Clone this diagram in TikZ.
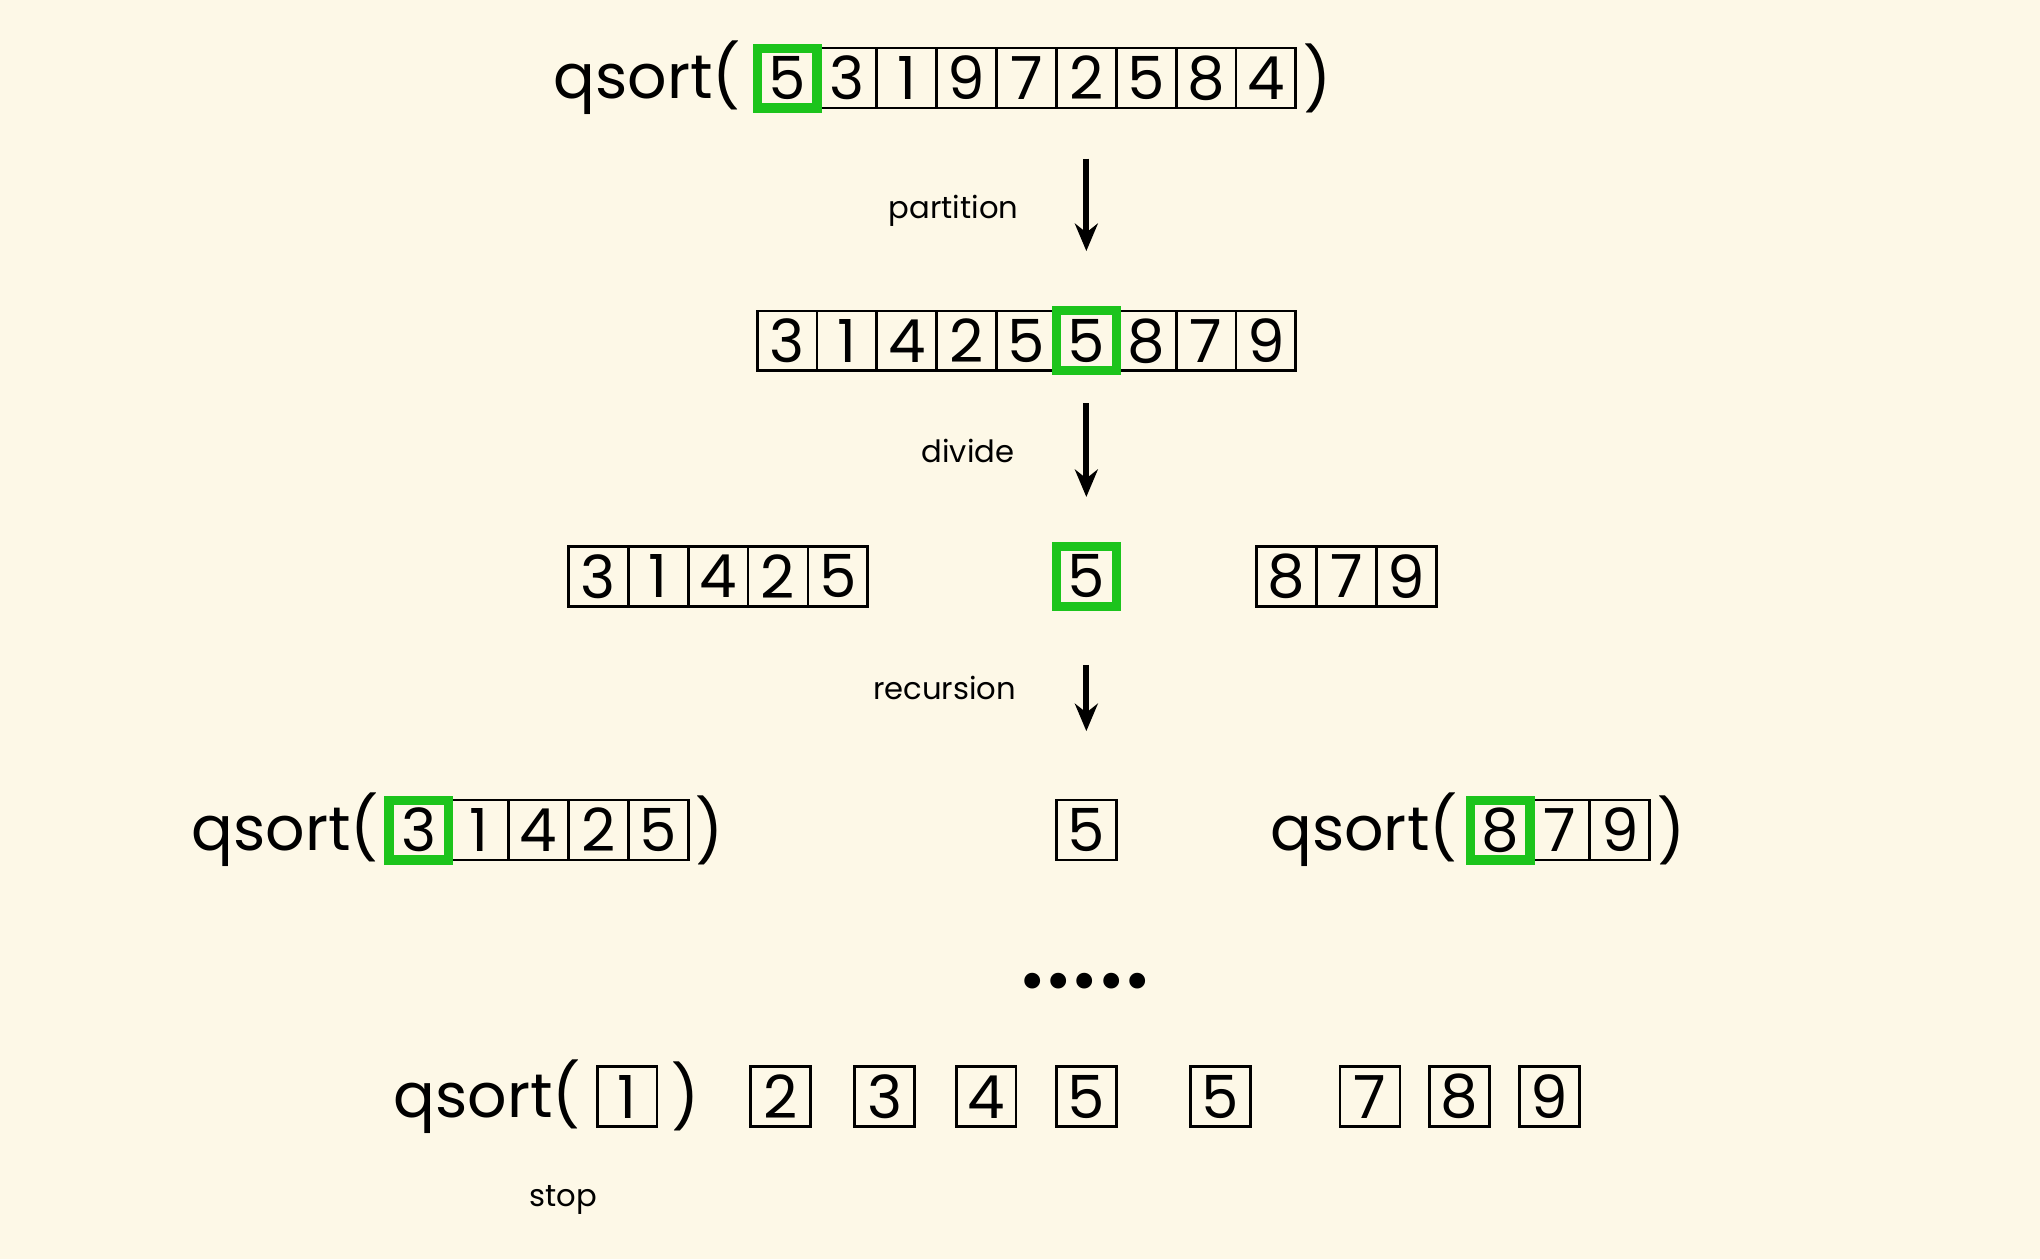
\documentclass[tikz,border=0pt]{standalone}
\usepackage{fontspec}
\setmainfont{Poppins}
\usepackage{xcolor}
\usetikzlibrary{
    positioning,
    arrows.meta
}
\definecolor{paper}{HTML}{FDF8E7}
\definecolor{pivot}{HTML}{1CC41C}
\tikzset{
    cell/.style={draw, line width=0.6pt, minimum width=0.46cm, minimum height=0.46cm,
        inner sep=0pt, outer sep=0pt, font=\fontsize{13}{13}\selectfont},
    pivotcell/.style={cell, draw=pivot, line width=2pt},
    call/.style={inner sep=0pt, font=\fontsize{13.5}{13.5}\selectfont},
    note/.style={inner sep=0pt, font=\fontsize{6.7}{6.7}\selectfont},
    flow/.style={-{Stealth[length=6pt, width=5pt]}, line width=1.3pt}
}

\begin{document}
\begin{tikzpicture}[x=0.01cm, y=-0.01cm]
    \fill[paper] (0, 0) rectangle (1568, 968);
    \useasboundingbox (0, 0) rectangle (1568, 968);

    \foreach \v [count=\i] in {5,3,1,9,7,2,5,8,4}
        \node[cell] (a\i) at ({559+46*\i}, 60) {\v};
    \node[pivotcell] at (a1) {};
    \node[call, anchor=east] (qa) at (570, 60) {qsort(};
    \node[call] (ca) at (1013, 60) {)};

    \coordinate (p1) at (835, 122);
    \coordinate (p2) at (835, 193);
    \draw[flow] (p1) -- (p2);
    \node[note] (partition) at (733, 162) {partition};

    \foreach \v [count=\i] in {3,1,4,2,5,5,8,7,9}
        \node[cell] (b\i) at ({559+46*\i}, 262) {\v};
    \node[pivotcell] at (b6) {};

    \coordinate (d1) at (835, 310);
    \coordinate (d2) at (835, 382);
    \draw[flow] (d1) -- (d2);
    \node[note] (divide) at (744, 347) {divide};

    \foreach \v [count=\i] in {3,1,4,2,5}
        \node[cell] (l\i) at ({414+46*\i}, 443) {\v};
    \node[cell] (m1) at (835, 443) {5};
    \node[pivotcell] at (m1) {};
    \foreach \v [count=\i] in {8,7,9}
        \node[cell] (r\i) at ({943+46*\i}, 443) {\v};

    \coordinate (r1a) at (835, 511);
    \coordinate (r1b) at (835, 562);
    \draw[flow] (r1a) -- (r1b);
    \node[note] (recursion) at (726, 529) {recursion};

    \node[call, anchor=east] (ql) at (292, 638) {qsort(};
    \foreach \v [count=\i] in {3,1,4,2,5}
        \node[cell] (s\i) at ({276+46*\i}, 638) {\v};
    \node[pivotcell] at (s1) {};
    \node[call] (cl) at (545, 638) {)};
    \node[cell] (m2) at (835, 638) {5};
    \node[call, anchor=east] (qr) at (1121, 638) {qsort(};
    \foreach \v [count=\i] in {8,7,9}
        \node[cell] (t\i) at ({1107+46*\i}, 638) {\v};
    \node[pivotcell] at (t1) {};
    \node[call] (cr) at (1285, 638) {)};

    \node[inner sep=0pt, font=\fontsize{14}{14}\selectfont] (dots) at (834, 759) {•••••};

    \node[call, anchor=east] (qe) at (447, 843) {qsort(};
    \node[cell] (e1) at (482, 843) {1};
    \node[call] (ce) at (527, 843) {)};
    \foreach \v/\x [count=\i] in {2/600,3/680,4/758,5/835,5/938,7/1053,8/1122,9/1191}
        \node[cell] (f\i) at (\x, 843) {\v};
    \node[note] (stop) at (433, 922) {stop};
\end{tikzpicture}
\end{document}
